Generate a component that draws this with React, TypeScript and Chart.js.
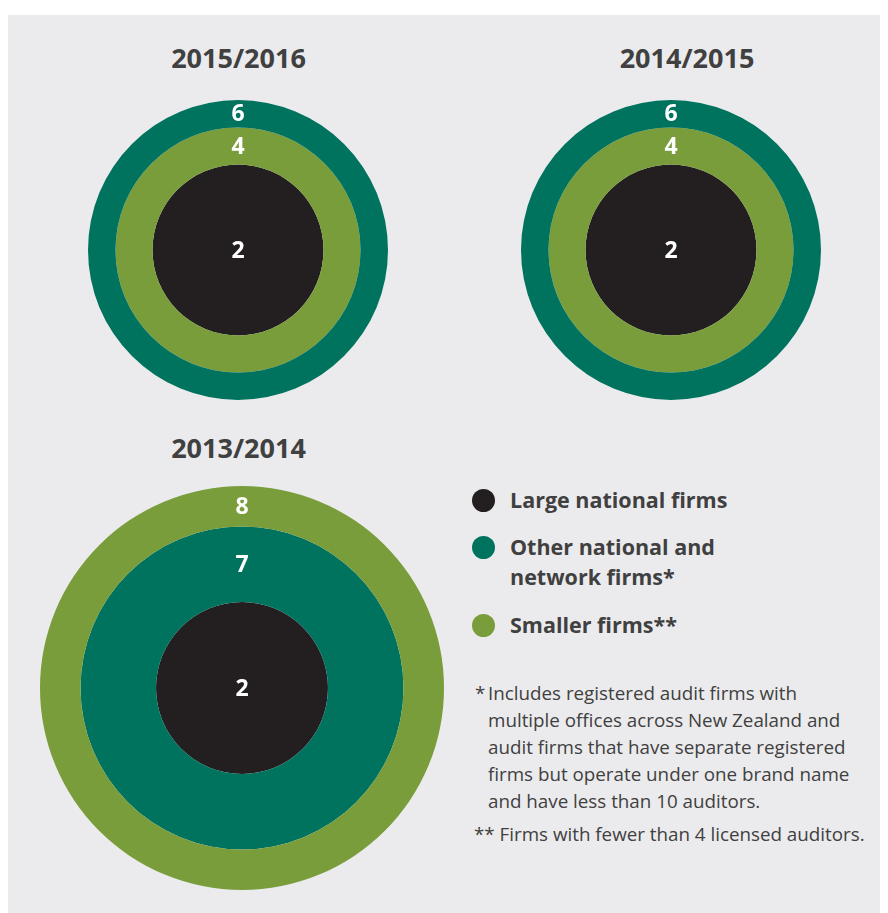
import React, { useEffect, useRef } from "react";
import { Chart, registerables } from "chart.js";

Chart.register(...registerables);

// ---- data ----
const YEARS = ["2015/2016", "2014/2015", "2013/2014"];
const LARGE_NATIONAL = [2, 2, 2];
const OTHER_NATIONAL = [6, 6, 7];
const SMALLER_FIRMS = [4, 4, 8];
const CATEGORY_NAMES = ["Large national firms", "Other national and network firms*", "Smaller firms**"];
const LEGEND_LINES = [["Large national firms"], ["Other national and", "network firms*"], ["Smaller firms**"]];
const NOTE_1 = [
  "Includes registered audit firms with",
  "multiple offices across New Zealand and",
  "audit firms that have separate registered",
  "firms but operate under one brand name",
  "and have less than 10 auditors.",
];
const NOTE_2 = "Firms with fewer than 4 licensed auditors.";

// ---- style ----
const COLORS = ["#231f20", "#00735f", "#7a9d3c"];
const TEXT = "#404040";
const BG = "#ebebed";

const LAYOUT = [
  { cx: 238, cy: 250, r: 150, weights: [27.5, 37, 85.5], tx: 238.5, ty: 57.5 },
  { cx: 671, cy: 250, r: 150, weights: [27.5, 37, 85.5], tx: 687, ty: 57.5 },
  { cx: 242, cy: 688, r: 202, weights: [40.5, 75.5, 86], tx: 238.5, ty: 447.5 },
];

const OFF = 8; // body margin

const ringLabels = {
  id: "ringLabels",
  afterDatasetsDraw(chart: any) {
    const ctx = chart.ctx;
    ctx.save();
    ctx.fillStyle = "#ffffff";
    ctx.font = "bold 23px 'Open Sans'";
    ctx.textAlign = "center";
    ctx.textBaseline = "middle";
    chart.data.datasets.forEach((ds: any, i: number) => {
      const arc: any = chart.getDatasetMeta(i).data[0];
      if (!arc) return;
      const p = arc.getProps(["x", "y", "innerRadius", "outerRadius"], true);
      const ly = p.innerRadius < 1 ? p.y : p.y - (p.innerRadius + p.outerRadius) / 2;
      ctx.fillText(String(ds.data[0]), p.x, ly + 1);
    });
    ctx.restore();
  },
};

function Rings({ index }: { index: number }) {
  const ref = useRef<HTMLCanvasElement | null>(null);
  const L = LAYOUT[index];
  useEffect(() => {
    const series = [
      { name: CATEGORY_NAMES[0], value: LARGE_NATIONAL[index], color: COLORS[0] },
      { name: CATEGORY_NAMES[1], value: OTHER_NATIONAL[index], color: COLORS[1] },
      { name: CATEGORY_NAMES[2], value: SMALLER_FIRMS[index], color: COLORS[2] },
    ].sort((a, b) => b.value - a.value);
    const chart = new Chart(ref.current as HTMLCanvasElement, {
      type: "pie",
      data: {
        labels: [YEARS[index]],
        datasets: series.map((s, i) => ({
          label: s.name,
          data: [s.value],
          backgroundColor: s.color,
          borderWidth: 0,
          weight: L.weights[i],
        })),
      },
      options: {
        animation: false,
        responsive: false,
        maintainAspectRatio: false,
        layout: { padding: 0 },
        plugins: { legend: { display: false }, tooltip: { enabled: false }, title: { display: false } },
      } as any,
      plugins: [ringLabels],
    });
    return () => chart.destroy();
  }, [index]);
  const size = L.r * 2;
  return (
    <>
      <div
        style={{
          position: "absolute",
          left: L.tx - OFF - 150,
          width: 300,
          top: L.ty - OFF - 20,
          height: 40,
          lineHeight: "40px",
          textAlign: "center",
          fontFamily: "'Open Sans'",
          fontWeight: 700,
          fontSize: 27,
          color: TEXT,
        }}
      >
        {YEARS[index]}
      </div>
      <canvas
        ref={ref}
        width={size}
        height={size}
        style={{ position: "absolute", left: L.cx - L.r - OFF, top: L.cy - L.r - OFF, width: size, height: size }}
      />
    </>
  );
}

export default function App() {
  const legendY = [500, 547, 625.5];
  const noteBase = 700.7;
  const noteStep = 26.8;
  const noteFont = 18.8;
  const noteStyle: React.CSSProperties = {
    position: "absolute",
    whiteSpace: "nowrap",
    fontFamily: "'Open Sans'",
    fontSize: noteFont,
    lineHeight: "28px",
    height: 28,
    color: TEXT,
  };
  return (
    <div style={{ position: "relative", width: 880, height: 905 }}>
      <div style={{ position: "absolute", left: 0, top: 7, width: 880, height: 898, background: BG }} />
      {YEARS.map((_, i) => (
        <Rings key={i} index={i} />
      ))}
      {LEGEND_LINES.map((lines, i) => (
        <React.Fragment key={i}>
          <div
            style={{
              position: "absolute",
              left: 483.5 - 11.5 - OFF,
              top: legendY[i] - 11.5 - OFF,
              width: 23,
              height: 23,
              borderRadius: "50%",
              background: COLORS[i],
            }}
          />
          {lines.map((t, j) => (
            <div
              key={j}
              style={{
                position: "absolute",
                left: 510 - OFF,
                top: legendY[i] + j * 30 - 15.5 - OFF,
                height: 30,
                lineHeight: "30px",
                whiteSpace: "nowrap",
                fontFamily: "'Open Sans'",
                fontWeight: 700,
                fontSize: 21.5,
                color: TEXT,
              }}
            >
              {t}
            </div>
          ))}
        </React.Fragment>
      ))}
      <div style={{ ...noteStyle, left: 475 - OFF, top: noteBase - 21.3 - OFF }}>*</div>
      {NOTE_1.map((t, j) => (
        <div key={j} style={{ ...noteStyle, left: 488 - OFF, top: noteBase + j * noteStep - 21.3 - OFF }}>
          {t}
        </div>
      ))}
      <div style={{ ...noteStyle, left: 474 - OFF, top: 841.7 - 21.3 - OFF }}>{"** " + NOTE_2}</div>
    </div>
  );
}
